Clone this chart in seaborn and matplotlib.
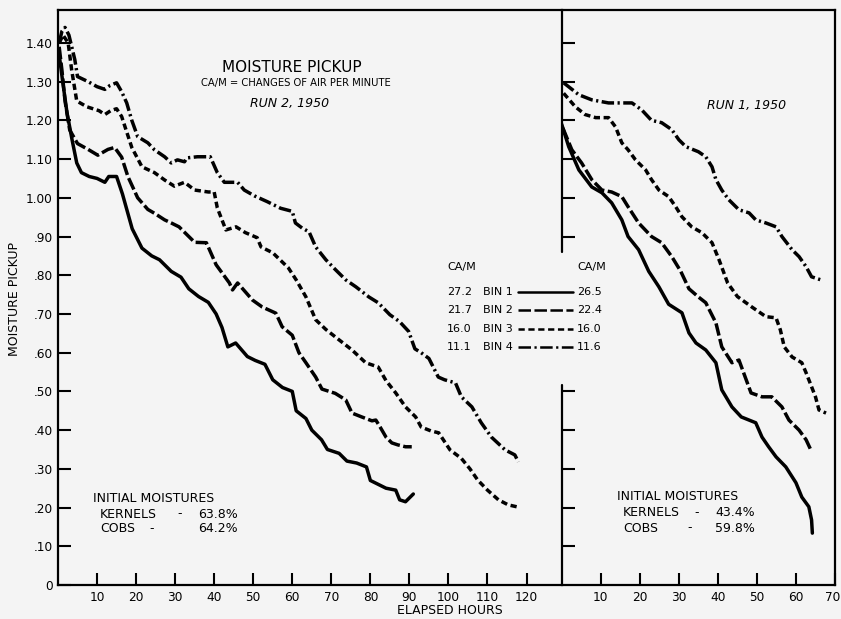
import matplotlib
matplotlib.use("Agg")
import matplotlib.pyplot as plt
import matplotlib.transforms as mtransforms
import seaborn as sns
import pandas as pd
from matplotlib.lines import Line2D

sns.set_style("white")
plt.rcParams['font.family'] = ['DejaVu Sans']
plt.rcParams['lines.scale_dashes'] = False

# ---------------- data ----------------
bins = ["BIN 1", "BIN 2", "BIN 3", "BIN 4"]
cam_run2 = ["27.2", "21.7", "16.0", "11.1"]
cam_run1 = ["26.5", "22.4", "16.0", "11.6"]

# Run 2, 1950 (left panel)
r2_b1_x = [0.3, 1.2, 2.3, 3.6, 4.8, 6.0, 8.0, 10.0, 12.0, 13.0, 15.0, 16.5, 19.0, 21.5, 24.0, 26.0, 29.0, 31.5, 33.5, 36.0,
           38.5, 40.5, 42.0, 43.5, 45.5, 48.5, 50.5, 53.0, 55.0, 57.5, 60.0, 61.0, 63.5, 65.0, 67.5, 69.0, 72.0, 74.0,
           76.5, 79.0, 80.0, 82.0, 84.0, 86.5, 87.5, 89.0, 90.0, 91.0]
r2_b1_y = [1.37, 1.30, 1.22, 1.15, 1.09, 1.065, 1.055, 1.05, 1.04, 1.055, 1.055, 1.01, 0.92, 0.87, 0.85, 0.84, 0.81, 0.795,
           0.765, 0.745, 0.73, 0.70, 0.665, 0.615, 0.625, 0.59, 0.58, 0.57, 0.53, 0.51, 0.50, 0.45, 0.43, 0.40, 0.375,
           0.35, 0.34, 0.32, 0.315, 0.305, 0.27, 0.26, 0.25, 0.245, 0.22, 0.215, 0.225, 0.235]

r2_b2_x = [0.3, 1.0, 1.8, 3.0, 5.0, 7.7, 10.2, 12.8, 14.5, 16.3, 17.9, 20.4, 23.0, 24.7, 27.3, 29.0, 31.0, 33.0, 35.0,
           38.0, 40.5, 43.9, 44.7, 46.0, 49.8, 52.3, 55.8, 57.4, 60.0, 61.7, 63.5, 66.0, 67.6, 71.0, 73.7, 75.3, 77.8,
           80.4, 81.4, 82.5, 84.0, 85.5, 87.0, 89.0, 90.6]
r2_b2_y = [1.39, 1.33, 1.25, 1.175, 1.14, 1.125, 1.11, 1.125, 1.13, 1.105, 1.055, 1.00, 0.97, 0.96, 0.943, 0.935, 0.925,
           0.905, 0.885, 0.884, 0.827, 0.78, 0.762, 0.78, 0.736, 0.718, 0.702, 0.667, 0.645, 0.60, 0.574, 0.537, 0.506,
           0.495, 0.478, 0.444, 0.434, 0.424, 0.426, 0.408, 0.382, 0.367, 0.362, 0.357, 0.357]

r2_b3_x = [0.3, 1.3, 2.6, 3.5, 4.8, 7.4, 10.5, 12.0, 13.5, 15.0, 16.3, 17.6, 18.9, 21.5, 24.7, 27.3, 29.8, 32.4, 35.0,
           38.5, 40.0, 40.8, 43.0, 45.6, 48.0, 51.0, 52.0, 55.0, 59.0, 61.0, 63.5, 66.0, 68.6, 72.0, 75.3, 78.8, 82.0,
           84.0, 86.5, 89.0, 91.6, 93.0, 95.5, 97.5, 100.4, 103.3, 105.5, 107.5, 110.0, 112.8, 115.3, 117.5]
r2_b3_y = [1.40, 1.42, 1.40, 1.33, 1.25, 1.235, 1.225, 1.215, 1.225, 1.23, 1.21, 1.17, 1.13, 1.08, 1.065, 1.046, 1.03,
           1.04, 1.02, 1.015, 1.015, 0.974, 0.917, 0.925, 0.91, 0.897, 0.873, 0.858, 0.819, 0.788, 0.744, 0.685, 0.66,
           0.633, 0.607, 0.574, 0.563, 0.528, 0.496, 0.46, 0.434, 0.408, 0.398, 0.393, 0.349, 0.327, 0.30, 0.271, 0.245,
           0.22, 0.207, 0.202]

r2_b4_x = [0.3, 1.0, 1.8, 2.8, 4.3, 5.0, 7.7, 10.0, 12.0, 13.3, 15.0, 16.3, 17.6, 18.9, 20.4, 23.0, 24.7, 27.3, 29.0,
           30.6, 32.4, 33.0, 35.7, 39.0, 40.8, 42.6, 46.0, 47.7, 50.3, 53.6, 57.0, 60.0, 60.8, 62.5, 64.3, 66.0, 68.6,
           71.0, 73.7, 76.3, 79.6, 82.0, 85.0, 87.5, 89.8, 91.4, 93.0, 95.0, 97.4, 99.0, 101.8, 103.3, 106.0, 108.4,
           111.0, 114.5, 117.0, 117.9]
r2_b4_y = [1.40, 1.43, 1.44, 1.42, 1.357, 1.313, 1.30, 1.287, 1.28, 1.29, 1.297, 1.274, 1.245, 1.20, 1.158, 1.142, 1.124,
           1.106, 1.09, 1.098, 1.093, 1.103, 1.106, 1.106, 1.065, 1.04, 1.04, 1.02, 1.005, 0.99, 0.973, 0.965, 0.935,
           0.922, 0.912, 0.873, 0.84, 0.815, 0.788, 0.77, 0.744, 0.729, 0.698, 0.68, 0.655, 0.61, 0.60, 0.585, 0.537,
           0.53, 0.522, 0.486, 0.46, 0.419, 0.382, 0.349, 0.336, 0.318]

# Run 1, 1950 (right panel)
r1_b1_x = [0.0, 1.8, 4.4, 7.7, 10.3, 12.8, 15.4, 17.0, 19.7, 22.3, 24.9, 27.4, 30.8, 32.6, 34.4, 36.9, 39.5, 41.0, 43.6,
           46.0, 49.7, 51.3, 53.0, 54.9, 57.4, 60.0, 61.5, 63.3, 64.0, 64.2]
r1_b1_y = [1.19, 1.132, 1.072, 1.028, 1.013, 0.987, 0.943, 0.90, 0.866, 0.81, 0.77, 0.725, 0.703, 0.651, 0.625, 0.607,
           0.574, 0.504, 0.46, 0.434, 0.419, 0.382, 0.357, 0.331, 0.305, 0.264, 0.227, 0.202, 0.168, 0.134]

r1_b2_x = [0.3, 2.6, 5.1, 7.7, 10.3, 12.8, 15.4, 17.0, 19.7, 23.0, 25.6, 28.2, 30.5, 32.6, 35.0, 36.9, 39.5, 41.0, 43.6,
           45.4, 47.0, 48.5, 51.3, 53.8, 56.4, 58.2, 60.8, 62.6, 63.8]
r1_b2_y = [1.18, 1.124, 1.09, 1.047, 1.02, 1.015, 1.003, 0.977, 0.935, 0.90, 0.884, 0.848, 0.81, 0.765, 0.744, 0.729,
           0.677, 0.615, 0.574, 0.581, 0.537, 0.496, 0.486, 0.486, 0.46, 0.426, 0.40, 0.375, 0.349]

r1_b3_x = [0.5, 3.5, 6.0, 8.7, 12.0, 13.8, 15.4, 17.0, 18.9, 21.5, 23.0, 24.9, 27.4, 29.2, 30.8, 33.3, 35.9, 38.5, 40.3,
           42.5, 45.0, 48.7, 52.3, 54.9, 56.0, 57.0, 59.0, 61.5, 62.6, 64.0, 65.0, 65.9, 67.7]
r1_b3_y = [1.27, 1.235, 1.215, 1.207, 1.207, 1.183, 1.142, 1.124, 1.098, 1.072, 1.047, 1.02, 1.003, 0.977, 0.951, 0.925,
           0.91, 0.884, 0.84, 0.78, 0.745, 0.718, 0.693, 0.69, 0.659, 0.615, 0.589, 0.574, 0.548, 0.512, 0.486, 0.452,
           0.444]

r1_b4_x = [0.5, 4.4, 7.7, 12.0, 18.0, 20.5, 23.0, 25.6, 28.2, 30.0, 31.8, 35.0, 36.9, 38.5, 39.5, 41.0, 42.8, 45.4, 48.0,
           49.7, 52.3, 54.9, 56.4, 59.0, 60.8, 62.6, 64.0, 66.4]
r1_b4_y = [1.297, 1.266, 1.253, 1.245, 1.245, 1.227, 1.20, 1.194, 1.176, 1.15, 1.132, 1.119, 1.106, 1.08, 1.047, 1.02,
           0.995, 0.969, 0.961, 0.943, 0.935, 0.925, 0.90, 0.866, 0.848, 0.822, 0.796, 0.788]

yticks = [0.0, 0.1, 0.2, 0.3, 0.4, 0.5, 0.6, 0.7, 0.8, 0.9, 1.0, 1.1, 1.2, 1.3, 1.4]
ytick_labels = ["0", ".10", ".20", ".30", ".40", ".50", ".60", ".70", ".80", ".90",
                "1.00", "1.10", "1.20", "1.30", "1.40"]
left_xticks = [10, 20, 30, 40, 50, 60, 70, 80, 90, 100, 110, 120]
right_xticks = [10, 20, 30, 40, 50, 60, 70]
right_yticks = [0.1, 0.2, 0.3, 0.4, 0.5, 0.9, 1.0, 1.1, 1.2, 1.3, 1.4]


def long_frame(series):
    rows = []
    for b, xs, ys in series:
        for x, y in zip(xs, ys):
            rows.append({"hours": x, "pickup": y, "bin": b})
    return pd.DataFrame(rows)


run2 = long_frame([(bins[0], r2_b1_x, r2_b1_y), (bins[1], r2_b2_x, r2_b2_y),
                   (bins[2], r2_b3_x, r2_b3_y), (bins[3], r2_b4_x, r2_b4_y)])
run1 = long_frame([(bins[0], r1_b1_x, r1_b1_y), (bins[1], r1_b2_x, r1_b2_y),
                   (bins[2], r1_b3_x, r1_b3_y), (bins[3], r1_b4_x, r1_b4_y)])

dash_map = {"BIN 1": "", "BIN 2": (9, 2.5), "BIN 3": (4.5, 2.6), "BIN 4": (9, 2.5, 1.6, 2.5)}

# ---------------- layout ----------------
BG = "#f4f4f4"
W, H = 841, 619
fig = plt.figure(figsize=(W / 100, H / 100), dpi=100, facecolor=BG)
x0, x1, yb, yt = 58, 835, 585, 10
unit = (x1 - x0) / (129 + 70)
xs_ = x0 + 129 * unit
ax1 = fig.add_axes([x0 / W, 1 - yb / H, (xs_ - x0) / W, (yb - yt) / H])
ax2 = fig.add_axes([xs_ / W, 1 - yb / H, (x1 - xs_) / W, (yb - yt) / H])
YMAX = 1.485

for ax, df in ((ax1, run2), (ax2, run1)):
    sns.lineplot(data=df, x="hours", y="pickup", style="bin", dashes=dash_map, color="black",
                 estimator=None, sort=False, legend=False, lw=2.5, ax=ax)
    ax.set_facecolor(BG)
    ax.set_ylim(0, YMAX)
    ax.set_xlabel("")
    ax.set_ylabel("")
    for s in ax.spines.values():
        s.set_linewidth(1.6)
        s.set_color("black")
    for ln in ax.lines:
        ln.set_solid_capstyle("round")

ax1.set_xlim(0, 129)
ax2.set_xlim(0, 70)
ax1.spines["right"].set_visible(False)
ax2.spines["left"].set_visible(False)

ax1.set_xticks(left_xticks)
ax1.set_xticklabels([str(v) for v in left_xticks])
ax1.set_yticks(yticks)
ax1.set_yticklabels(ytick_labels)
ax2.set_xticks(right_xticks)
ax2.set_xticklabels([str(v) for v in right_xticks])
ax2.set_yticks(right_yticks)
ax2.set_yticklabels([])

for ax in (ax1, ax2):
    ax.tick_params(axis="both", direction="in", length=9, width=1.5, labelsize=8.7, colors="black")
    ax.tick_params(axis="x", pad=4)
    ax.tick_params(axis="y", pad=4, left=True, right=False)
    ax.tick_params(axis="x", bottom=True, top=False)

# keep the last "70" label inside the figure, as in the reference
last = ax2.get_xticklabels()[-1]
last.set_horizontalalignment("right")
last.set_transform(last.get_transform() + mtransforms.ScaledTranslation(5 / 100, 0, fig.dpi_scale_trans))

# divider between panels with gap for legend
ax2.axvline(0, ymin=0, ymax=0.517 / YMAX, color="black", lw=1.6, clip_on=False)
ax2.axvline(0, ymin=0.86 / YMAX, ymax=1, color="black", lw=1.6, clip_on=False)


def T(x, y, s, **kw):
    kw.setdefault("va", "center")
    kw.setdefault("color", "black")
    fig.text(x / W, 1 - y / H, s, **kw)


# titles
T(292, 67, "MOISTURE PICKUP", ha="center", fontsize=11)
T(296, 83, "CA/M = CHANGES OF AIR PER MINUTE", ha="center", fontsize=7.2)
T(290, 103, "RUN 2, 1950", ha="center", fontsize=9, style="italic")
T(747, 105, "RUN 1, 1950", ha="center", fontsize=9, style="italic")

# axis labels
T(450, 611, "ELAPSED HOURS", ha="center", fontsize=9)
T(15, 299, "MOISTURE PICKUP", ha="center", fontsize=9, rotation=90)

# initial moistures
T(93, 498, "INITIAL MOISTURES", ha="left", fontsize=9)
T(100, 514, "KERNELS", ha="left", fontsize=9)
T(180, 514, "-", ha="center", fontsize=9)
T(238, 514, "63.8%", ha="right", fontsize=9)
T(100, 529, "COBS", ha="left", fontsize=9)
T(152, 529, "-", ha="center", fontsize=9)
T(238, 529, "64.2%", ha="right", fontsize=9)

T(617, 497, "INITIAL MOISTURES", ha="left", fontsize=9)
T(623, 513, "KERNELS", ha="left", fontsize=9)
T(697, 513, "-", ha="center", fontsize=9)
T(755, 513, "43.4%", ha="right", fontsize=9)
T(623, 528, "COBS", ha="left", fontsize=9)
T(690, 528, "-", ha="center", fontsize=9)
T(755, 528, "59.8%", ha="right", fontsize=9)

# legend
T(447, 267, "CA/M", ha="left", fontsize=8)
T(577, 267, "CA/M", ha="left", fontsize=8)
rows_y = [292, 310, 329, 347]
styles = ["-", (0, (9, 2.5)), (0, (4.5, 2.6)), (0, (9, 2.5, 1.6, 2.5))]
for i, b in enumerate(bins):
    yy = rows_y[i]
    T(447, yy, cam_run2[i], ha="left", fontsize=8)
    T(483, yy, b, ha="left", fontsize=8)
    T(577, yy, cam_run1[i], ha="left", fontsize=8)
    fig.add_artist(Line2D([518 / W, 573 / W], [1 - yy / H] * 2, transform=fig.transFigure,
                          color="black", lw=1.8, linestyle=styles[i]))

fig.savefig("out.png", dpi=100, facecolor=BG)
